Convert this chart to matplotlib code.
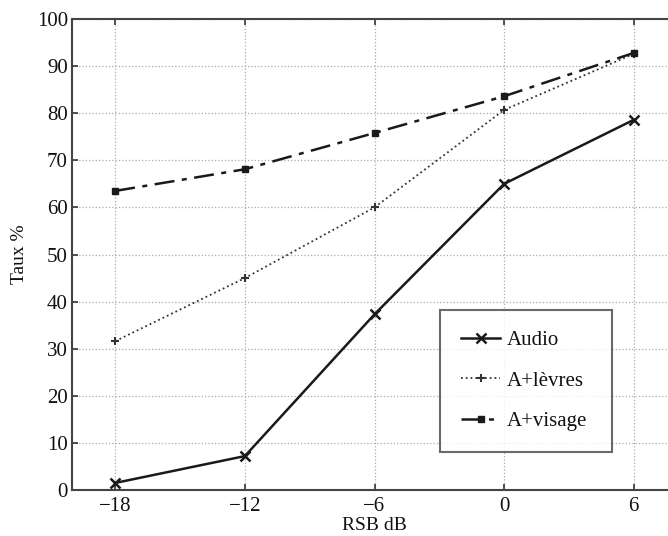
import matplotlib
matplotlib.use("Agg")
import matplotlib.pyplot as plt

x = [-18, -12, -6, 0, 6]
audio = [1.5, 7.2, 37.3, 65.0, 78.6]
levres = [31.6, 45.0, 60.0, 80.7, 92.6]
visage = [63.5, 68.1, 75.8, 83.6, 92.8]
xticks = [-18, -12, -6, 0, 6]
yticks = list(range(0, 101, 10))

plt.rcParams['font.family'] = ['Liberation Serif', 'DejaVu Serif']
fig = plt.figure(figsize=(6.68, 5.36), dpi=100)
ax = fig.add_axes([72/668, 1-490/536, 605/668, 471/536])

ax.plot(x, audio, '-', color='#1a1a1a', lw=1.8, marker='x', ms=7, mew=1.8, label='Audio')
ax.plot(x, levres, ':', color='#333333', lw=1.3, marker='+', ms=6, mew=1.5, label='A+lèvres')
ax.plot(x, visage, '-.', color='#1a1a1a', lw=1.8, marker='s', ms=5, mew=1, label='A+visage',
        dashes=[8, 3, 2, 3])

ax.set_xlim(-20, 8)
ax.set_ylim(0, 100)
ax.set_xticks(xticks)
ax.set_xticklabels(['\u221218', '\u221212', '\u22126', '0', '6'])
ax.set_yticks(yticks)
ax.tick_params(labelsize=15, direction='in', length=4, color='#333333', width=1.2,
               labelcolor='#111111')
ax.tick_params(axis='x', top=True, pad=5)
ax.tick_params(axis='y', right=True, pad=3)
ax.grid(True, linestyle=':', color='#aaaaaa', lw=0.9)
for s in ax.spines.values():
    s.set_color('#444444')
    s.set_linewidth(1.5)

ax.set_xlabel('RSB dB', fontsize=14, labelpad=1, color='#111111')
ax.set_ylabel('Taux %', fontsize=14, labelpad=6, color='#111111')

leg = ax.legend(loc='lower left', bbox_to_anchor=((440-72)/605, (490-452)/471, (612-440)/605, (452-300)/471),
                mode='expand', borderaxespad=0, fontsize=15, frameon=True, fancybox=False,
                borderpad=1.0, labelspacing=1.0, handlelength=1.9, handletextpad=0.3)
leg.get_frame().set_edgecolor('#444444')
leg.get_frame().set_linewidth(1.5)
for t in leg.get_texts():
    t.set_color('#111111')

fig.savefig('out.png', dpi=100)
